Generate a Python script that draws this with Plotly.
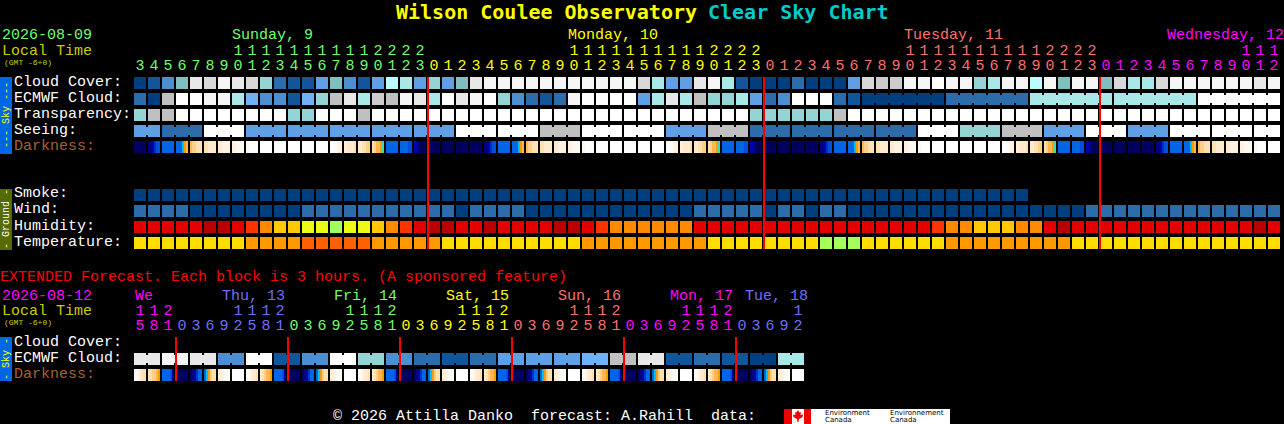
import plotly.graph_objects as go

W, H = 1284, 424
FONT = "Liberation Mono"

# ---------- palettes ----------
CLOUD_COLORS = {"0": "#003F7F", "1": "#13559B", "2": "#2C6CAB", "3": "#4C8ED0", "4": "#5F9FE6",
                "5": "#6FB0F7", "6": "#7FBFBF", "7": "#94D4D4", "8": "#A8E8E8", "9": "#BBFBFB",
                "a": "#C0C0C0", "b": "#CCCCCC", "c": "#D8D8D8", "d": "#E8E8E8", "e": "#F5F5F5", "f": "#FFFFFF"}
HUMID_COLORS = {"g": "#B80000", "r": "#E30000", "o": "#FF3300", "n": "#FF8A00", "y": "#FFC800",
                "l": "#ECFC14", "q": "#A0FF60"}
TEMP_COLORS = {"Y": "#FFDD00", "O": "#FF9900", "R": "#FF6000", "G": "#A5FF5A"}
DARK_CODES = ["A", "B", "C", "D", "E", "F", "G", "T", "H", "I", "J", "K", "L", "M", "N", "O"]
DARK_COLORS = ["#00005F", "#000080", "#0000A8", "#0030C0", "#0050D8", "#0066E6", "#00BFFF", "#30E0C0",
               "#FF9900", "#FFB850", "#FFCF8A", "#FFE0B0", "#FFEBCC", "#FFF3E0", "#FFFAF2", "#FFFFFF"]

# ---------- main chart data (82 hourly blocks) ----------
HOURS_SUN = [3, 4, 5, 6, 7, 8, 9, 10, 11, 12, 13, 14, 15, 16, 17, 18, 19, 20, 21, 22, 23]
HOURS_MON = [0, 1, 2, 3, 4, 5, 6, 7, 8, 9, 10, 11, 12, 13, 14, 15, 16, 17, 18, 19, 20, 21, 22, 23]
HOURS_TUE = [0, 1, 2, 3, 4, 5, 6, 7, 8, 9, 10, 11, 12, 13, 14, 15, 16, 17, 18, 19, 20, 21, 22, 23]
HOURS_WED = [0, 1, 2, 3, 4, 5, 6, 7, 8, 9, 10, 11, 12]
MAIN_DAY_COLORS = ["#6FFF6F", "#FFFF00", "#FF6F6F", "#FF00FF"]

CLOUD_COVER = list("0136dcedc72114631498" "4" "746deeeeeeeeeeec844de810" "0020004"
                   "cbbeefee78ee9e6ee6c88ceeeeeede")
ECMWF_CLOUD = list("20affee8533157ad8baed" "8fdef73212effff48d8a778423fff21"
                   "000000" "222222" "888888" "888888" "ffffff")
ECMWF_SPANS = [1] * 52 + [6, 6, 6, 6, 6]
TRANSPARENCY = list("7aaffffffff77fffaffff" "fffffffffffffffffffffff" "777777" "a" "f"
                    "ffffffffffffffffffffffffffffff")
SEEING_VALUES = list("42f44444ffaff4a2222f7a4f4fff")
SEEING_SPANS = [2] + [3] * 26 + [2]
DARKNESS = ["AAAAAA", "BBCDEE", "FFFFFF", "FFFGHI", "IJJKKK", "KKLLLL", "LLMMMM", "MMNNNN", "NNOOOO",
            "OOOOOO", "OOOOOO", "OOOOOO", "OOOOOO", "OOOOOO", "OONNMM", "MLLLLK", "LLKKJJ", "KJIIHT",
            "FFFFFF", "FFFFEE", "CCBAAA",
            "AAAAAA", "AAAAAA", "AAAAAA", "AAAAAA", "BBCDEE", "FFFFFF", "FFFGHI", "IJJKKK", "KKLLLL",
            "LLMMMM", "MMNNNN", "NNOOOO", "OOOOOO", "OOOOOO", "OOOOOO", "OOOOOO", "OOOOOO", "OONNMM",
            "MLLLLK", "LLKKJJ", "KJIIHT", "FFFFFF", "FFFFEE", "CCBAAA",
            "AAAAAA", "AAAAAA", "AAAAAA", "AAAAAA", "BBCDEE", "FFFFFF", "FFFGHI", "IJJKKK", "KKLLLL",
            "LLMMMM", "MMNNNN", "NNOOOO", "OOOOOO", "OOOOOO", "OOOOOO", "OOOOOO", "OOOOOO", "OONNMM",
            "MLLLLK", "LLKKJJ", "KJIIHT", "FFFFFF", "FFFFEE", "CCBAAA",
            "AAAAAA", "AAAAAA", "AAAAAA", "AAAAAA", "BBCDEE", "FFFFFF", "FFFGHI", "IJJKKK", "KKLLLL",
            "LLMMMM", "MMNNNN", "NNOOOO", "OOOOOO"]
SMOKE = list("0000000000000000000000000000000000000000000000000000000000000000")
WIND = list("2222" "00000000" "222222222" "22" "0" "2222" "000000000000" "22222" "0" "22" "0" "22" "0"
            "0000000000000000" "22222222222222")
HUMIDITY = list("rrrrrggronyyllqllynor" "ggrrgrrrrggronnnnnn" "rrrrrrrrrrrrrrrrr" "onnyyynnrg"
                "rrrrrrrrrrrrr" "gr")
TEMPERATURE = list("YYYYYYYY" "OOOO" "RRRRR" "OOOOO" "YYYYYYYYYY" "OOOOOOOOO" "YYYYYYYY" "GGG" "YYYYYY"
                   "OOOOOOOOO" "YYYYYYYYYYYYYYY")

# ---------- extended forecast data (48 three-hour blocks) ----------
EXT_HOURS = [15, 18, 21,
             0, 3, 6, 9, 12, 15, 18, 21,
             0, 3, 6, 9, 12, 15, 18, 21,
             0, 3, 6, 9, 12, 15, 18, 21,
             0, 3, 6, 9, 12, 15, 18, 21,
             0, 3, 6, 9, 12, 15, 18, 21,
             0, 3, 6, 9, 12]
EXT_DAY_LENGTHS = [3, 8, 8, 8, 8, 8, 5]
EXT_DAY_COLORS = ["#FF00FF", "#6F6FFF", "#6FFF6F", "#FFFF00", "#FF6F6F", "#FF00FF", "#6F6FFF"]
EXT_ECMWF = list("ddeedd33ff1133ff77332211" "224444445" "5aadd1122110088")
EXT_ECMWF_SPANS = [2] * 24
EXT_DARKNESS = ["ONMLKK", "KKJJIH", "FFFFEC",
                "AAAAAA", "ABCDFF", "FGHJKK", "LMMNNO", "OOOOOO", "ONMLLK", "LKJIIH", "FFFFEC",
                "AAAAAA", "ABCDFF", "FGHJKK", "LMMNNO", "OOOOOO", "ONMLLK", "LKJIIH", "FFFFEC",
                "AAAAAA", "ABCDFF", "FGHJKK", "LMMNNO", "OOOOOO", "ONMLLK", "LKJIIH", "FFFFEC",
                "AAAAAA", "ABCDFF", "FGHJKK", "LMMNNO", "OOOOOO", "ONMLLK", "LKJIIH", "FFFFEC",
                "AAAAAA", "ABCDFF", "FGHJKK", "LMMNNO", "OOOOOO", "ONMLLK", "LKJIIH", "FFFFEC",
                "AAAAAA", "ABCDFF", "FGHJKK", "LMMNNO", "OOOOOO"]
MAIN_MIDNIGHTS = [21, 45, 69]
EXT_MIDNIGHTS = [3, 11, 19, 27, 35, 43]

# ---------- layout constants (pixels) ----------
CELL, PITCH, X0 = 12, 14, 134


def paper_x(px):
    return px / W


def paper_y(py):
    return 1 - py / H


def col_left(i):
    return i - (CELL / 2) / PITCH


fig = go.Figure()


def add_row(values, palette, top):
    idx = list(range(len(values)))
    fig.add_trace(go.Bar(x=idx, y=[CELL] * len(idx), base=[top] * len(idx), width=CELL / PITCH,
                         marker=dict(color=[palette[v] for v in values], line=dict(width=0)),
                         hoverinfo="skip", showlegend=False))


def add_connectors(values, spans, palette, top):
    xs, cols, start = [], [], 0
    for s in spans:
        for j in range(start, start + s - 1):
            xs.append(j + 0.5)
            cols.append(palette[values[j]])
        start += s
    fig.add_trace(go.Bar(x=xs, y=[CELL - 4] * len(xs), base=[top + 2] * len(xs), width=1,
                         marker=dict(color=cols, line=dict(width=0)),
                         hoverinfo="skip", showlegend=False))


def add_darkness(cells, center):
    z = []
    for c in cells:
        z += [DARK_CODES.index(ch) for ch in c] + [None]
    n = len(DARK_CODES) - 1
    scale = [[i / n, col] for i, col in enumerate(DARK_COLORS)]
    fig.add_trace(go.Heatmap(z=[z], x0=col_left(0) + 1 / 14, dx=1 / 7, y0=center, dy=CELL,
                             colorscale=scale, zmin=0, zmax=n, showscale=False, hoverinfo="skip"))


seeing_cells = [v for v, s in zip(SEEING_VALUES, SEEING_SPANS) for _ in range(s)]
ext_ecmwf_cells = EXT_ECMWF

add_darkness(DARKNESS, 147)
add_darkness(EXT_DARKNESS, 375)
add_connectors(ECMWF_CLOUD, ECMWF_SPANS, CLOUD_COLORS, 93)
add_connectors(seeing_cells, SEEING_SPANS, CLOUD_COLORS, 125)
add_connectors(ext_ecmwf_cells, EXT_ECMWF_SPANS, CLOUD_COLORS, 353)
add_row(CLOUD_COVER, CLOUD_COLORS, 77)
add_row(ECMWF_CLOUD, CLOUD_COLORS, 93)
add_row(TRANSPARENCY, CLOUD_COLORS, 109)
add_row(seeing_cells, CLOUD_COLORS, 125)
add_row(SMOKE, CLOUD_COLORS, 189)
add_row(WIND, CLOUD_COLORS, 205)
add_row(HUMIDITY, HUMID_COLORS, 221)
add_row(TEMPERATURE, TEMP_COLORS, 237)
add_row(ext_ecmwf_cells, CLOUD_COLORS, 353)


# red midnight lines as thin bars, so their edges fall on whole pixels
def add_midnights(cols, y0, y1):
    xs = [col_left(c) for c in cols]
    fig.add_trace(go.Bar(x=xs, y=[y1 - y0] * len(xs), base=[y0] * len(xs), width=2.05 / PITCH,
                         marker=dict(color="#FF0000", line=dict(width=0)),
                         hoverinfo="skip", showlegend=False))


add_midnights(MAIN_MIDNIGHTS, 77, 249)
add_midnights(EXT_MIDNIGHTS, 337, 381)


def add_hour_labels(hours, colors, y_digit, y_tens):
    xs = list(range(len(hours)))
    fig.add_trace(go.Scatter(x=xs, y=[y_digit] * len(xs), mode="text", text=[str(h % 10) for h in hours],
                             textposition="middle center",
                             textfont=dict(family=FONT, size=15, color=colors),
                             hoverinfo="skip", showlegend=False))
    tx = [i for i, h in zip(xs, hours) if h >= 10]
    fig.add_trace(go.Scatter(x=tx, y=[y_tens] * len(tx), mode="text", text=[str(hours[i] // 10) for i in tx],
                             textposition="middle center",
                             textfont=dict(family=FONT, size=15, color=[colors[i] for i in tx]),
                             hoverinfo="skip", showlegend=False))


main_groups = [HOURS_SUN, HOURS_MON, HOURS_TUE, HOURS_WED]
main_hours = HOURS_SUN + HOURS_MON + HOURS_TUE + HOURS_WED
main_colors = [c for g, c in zip(main_groups, MAIN_DAY_COLORS) for _ in g]
add_hour_labels(main_hours, main_colors, 66, 51)
ext_colors = [c for n, c in zip(EXT_DAY_LENGTHS, EXT_DAY_COLORS) for _ in range(n)]
add_hour_labels(EXT_HOURS, ext_colors, 326, 311)

ann = []


def text(px, py, s, color, size=15, anchor="left", bold=False, angle=0, family=FONT):
    if bold:
        s = "<b>" + s + "</b>"
    ann.append(dict(x=paper_x(px), y=paper_y(py), xref="paper", yref="paper", text=s, showarrow=False,
                    xanchor=anchor, yanchor="middle", textangle=angle, borderpad=0, borderwidth=0,
                    font=dict(family=family, size=size, color=color)))


# Title
text(396, 12, "Wilson Coulee Observatory", "#FFFF00", 20, bold=True, family="DejaVu Sans Mono")
text(708, 12, "Clear Sky Chart", "#00CCCC", 20, bold=True, family="DejaVu Sans Mono")

# Header
text(2, 36, "2026-08-09", "#6FFF6F")
text(2, 52, "Local Time", "#CCCC00")
text(4, 62, "(GMT -6+0)", "#CCCC00", 8)
text(232, 36, "Sunday, 9", "#6FFF6F")
text(568, 36, "Monday, 10", "#FFFF00")
text(904, 36, "Tuesday, 11", "#FF6F6F")
text(1167, 36, "Wednesday, 12", "#FF00FF")

for y, s, col in [(82, "Cloud Cover:", "#FFFFFF"), (98, "ECMWF Cloud:", "#FFFFFF"),
                  (114, "Transparency:", "#FFFFFF"), (130, "Seeing:", "#FFFFFF"),
                  (146, "Darkness:", "#A86030"), (194, "Smoke:", "#FFFFFF"), (210, "Wind:", "#FFFFFF"),
                  (226, "Humidity:", "#FFFFFF"), (242, "Temperature:", "#FFFFFF"),
                  (342, "Cloud Cover:", "#FFFFFF"), (358, "ECMWF Cloud:", "#FFFFFF"),
                  (374, "Darkness:", "#A86030")]:
    text(14, y, s, col)

# Extended header
text(0, 277, "EXTENDED Forecast. Each block is 3 hours. (A sponsored feature)", "#FF0000")
text(2, 296, "2026-08-12", "#FF00FF")
text(2, 311, "Local Time", "#CCCC00")
text(4, 322, "(GMT -6+0)", "#CCCC00", 8)
for x, s, col in [(135, "We", "#FF00FF"), (222, "Thu, 13", "#6F6FFF"), (334, "Fri, 14", "#6FFF6F"),
                  (446, "Sat, 15", "#FFFF00"), (558, "Sun, 16", "#FF6F6F"), (670, "Mon, 17", "#FF00FF"),
                  (745, "Tue, 18", "#6F6FFF")]:
    text(x, 296, s, col)

# Footer
text(333, 416, "\u00a9 2026 Attilla Danko\u00a0 forecast: A.Rahill\u00a0 data:", "#FFFFFF")

shapes = []


def rect(x0, y0, x1, y1, color):
    shapes.append(dict(type="rect", xref="paper", yref="paper", x0=paper_x(x0), x1=paper_x(x1),
                       y0=paper_y(y0), y1=paper_y(y1), fillcolor=color, line=dict(width=0), layer="below"))


# Side bands
rect(0, 77, 12, 154, "#0066E6")
rect(0, 189, 12, 250, "#556B00")
rect(0, 337, 12, 381, "#0066E6")
text(6, 115, "--- Sky ---", "#FFFF00", 10, anchor="center", angle=-90)
text(6, 219, "- Ground -", "#FFFFFF", 10, anchor="center", angle=-90)
text(6, 359, "- Sky -", "#FFFF00", 10, anchor="center", angle=-90)

# Environment Canada logo
rect(784, 409, 950, 424, "#FFFFFF")
rect(784, 409, 792, 424, "#EE0000")
rect(804, 409, 811, 424, "#EE0000")
leaf = [(798, 410), (799.5, 412.5), (801, 412), (800.5, 415), (803, 414.5), (802.5, 417), (799, 419),
        (798.5, 422), (797.5, 422), (797, 419), (793.5, 417), (793, 414.5), (795.5, 415), (795, 412),
        (796.5, 412.5)]
path = "M " + " L ".join(f"{paper_x(a):.5f},{paper_y(b):.5f}" for a, b in leaf) + " Z"
shapes.append(dict(type="path", path=path, xref="paper", yref="paper", fillcolor="#EE0000", line=dict(width=0)))
for x, s in [(825, "Environment"), (890, "Environnement")]:
    text(x, 413, s, "#000000", 7, family="DejaVu Sans")
for x in (825, 890):
    text(x, 419.7, "Canada", "#000000", 7, family="DejaVu Sans")

fig.update_layout(
    width=W, height=H, autosize=False, margin=dict(l=0, r=0, t=0, b=0, pad=0),
    paper_bgcolor="#000000", plot_bgcolor="#000000", barmode="overlay", showlegend=False,
    xaxis=dict(range=[(0 - X0 - CELL / 2) / PITCH, (W - X0 - CELL / 2) / PITCH], visible=False, fixedrange=True),
    yaxis=dict(range=[H, 0], visible=False, fixedrange=True),
    annotations=ann, shapes=shapes,
)

fig.write_html("out.html", config={"displayModeBar": False},
               post_script="document.body.style.margin='0';document.body.style.overflow='hidden';document.body.style.background='#000';")
